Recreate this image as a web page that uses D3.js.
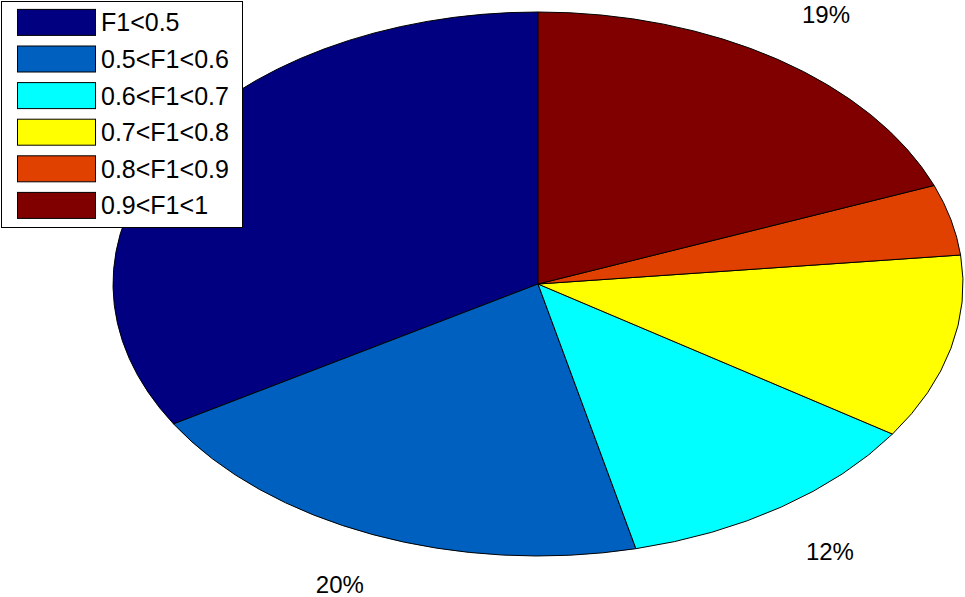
<!DOCTYPE html>
<html>
<head>
<meta charset="utf-8">
<script src="https://cdn.jsdelivr.net/npm/d3@7"></script>
<style>
  html, body { margin: 0; padding: 0; background: #fff; }
  svg { display: block; }
  text { font-family: "Liberation Sans", Arial, sans-serif; }
</style>
</head>
<body>
<svg id="chart" width="965" height="597"></svg>
<script>
// Data (percent shares)
const categories = ["F1<0.5", "0.5<F1<0.6", "0.6<F1<0.7", "0.7<F1<0.8", "0.8<F1<0.9", "0.9<F1<1"];
const values = [33.6, 20.1, 12.0, 11.0, 4.2, 19.1];
const colors = ["#000080", "#0060C0", "#00FFFF", "#FFFF00", "#E04000", "#800000"];

const W = 965, H = 597;
const cx = 538, cy = 284, rx = 425, ry = 272;
const legendBox = { x: 1.5, y: 1.5, w: 241, h: 226 };

const svg = d3.select("#chart");

const pie = d3.pie().sort(null).value(d => d).startAngle(0).endAngle(-2 * Math.PI);
const arcs = pie(values);
const total = d3.sum(values);

const arcGen = d3.arc().innerRadius(0).outerRadius(ry);

const color = d3.scaleOrdinal().domain(categories).range(colors);

const g = svg.append("g").attr("transform", `translate(${cx},${cy}) scale(${rx / ry},1)`);
g.selectAll("path")
  .data(arcs)
  .enter().append("path")
  .attr("d", arcGen)
  .attr("fill", (d, i) => color(categories[i]))
  .attr("stroke", "#000")
  .attr("stroke-width", 1)
  .attr("vector-effect", "non-scaling-stroke");

// Percentage labels at 1.2 x radius (MATLAB style); labels that would fall
// outside the figure or under the legend are not visible in the original.
const labelPos = d => {
  const a = (d.startAngle + d.endAngle) / 2;
  return [cx + 1.2 * rx * Math.sin(a), cy - 1.2 * ry * Math.cos(a)];
};
const visibleArcs = arcs.filter(d => {
  const [x, y] = labelPos(d);
  const inside = x - 25 > 0 && x + 25 < W && y > 0 && y < H;
  const underLegend = x - 25 < legendBox.x + legendBox.w && y < legendBox.y + legendBox.h;
  return inside && !underLegend;
});

svg.append("g").selectAll("text")
  .data(visibleArcs)
  .enter().append("text")
  .attr("x", d => labelPos(d)[0])
  .attr("y", d => labelPos(d)[1])
  .attr("text-anchor", "middle")
  .attr("dominant-baseline", "central")
  .attr("font-size", 24)
  .attr("fill", "#000")
  .text(d => Math.round(d.value / total * 100) + "%");

// Legend
const lg = svg.append("g");
lg.append("rect")
  .attr("x", legendBox.x).attr("y", legendBox.y)
  .attr("width", legendBox.w).attr("height", legendBox.h)
  .attr("fill", "#fff").attr("stroke", "#000").attr("stroke-width", 1);

const rowY = d3.scalePoint().domain(categories).range([22.4, 205.4]);

const rows = lg.selectAll("g.row")
  .data(categories)
  .enter().append("g")
  .attr("class", "row")
  .attr("transform", d => `translate(0,${rowY(d)})`);

rows.append("rect")
  .attr("x", 17.5).attr("y", -13)
  .attr("width", 78).attr("height", 26)
  .attr("fill", d => color(d))
  .attr("stroke", "#000").attr("stroke-width", 1);

rows.append("text")
  .attr("x", 101).attr("y", 9)
  .attr("font-size", 25)
  .attr("fill", "#000")
  .text(d => d);
</script>
</body>
</html>
